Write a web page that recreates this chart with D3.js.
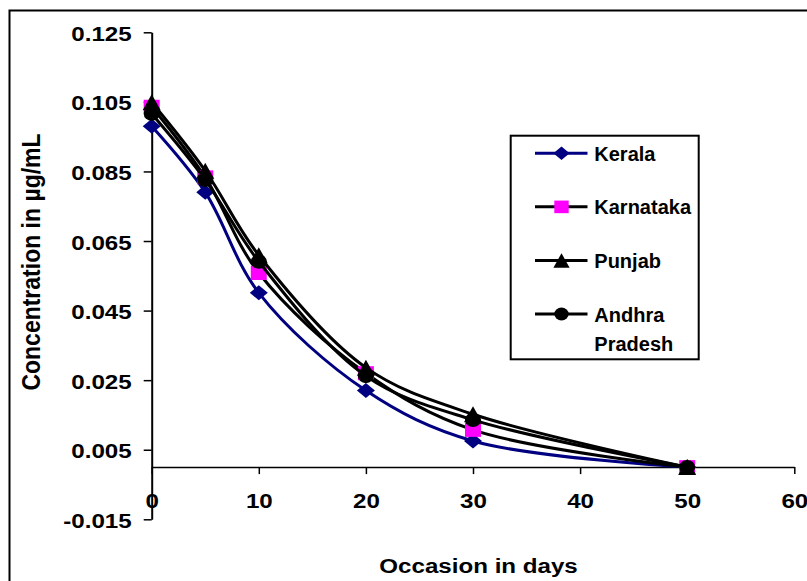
<!DOCTYPE html>
<html>
<head>
<meta charset="utf-8">
<script src="https://cdn.jsdelivr.net/npm/d3@7"></script>
<style>
  body { margin: 0; background: #fff; }
  text { font-family: "Liberation Sans", Arial, sans-serif; font-weight: bold; fill: #000; }
</style>
</head>
<body>
<div id="chart-area"></div>
<script>
const days = [0, 5, 10, 20, 30, 50]
const kerala = [0.098, 0.079, 0.0501, 0.022, 0.0075, 0]
const karnataka = [0.1036, 0.0833, 0.0558, 0.027, 0.0107, 0]
const punjab = [0.1049, 0.0852, 0.0609, 0.0286, 0.0152, 0]
const andhra = [0.1016, 0.0826, 0.0591, 0.0262, 0.0136, 0]

const seriesNames = ["Kerala", "Karnataka", "Punjab", "Andhra Pradesh"]
const xTicks = [0, 10, 20, 30, 40, 50, 60]
const yTicks = [0.125, 0.105, 0.085, 0.065, 0.045, 0.025, 0.005, -0.015]
const yTickLabels = ["0.125", "0.105", "0.085", "0.065", "0.045", "0.025", "0.005", "-0.015"]

const w = 807
const h = 581
const sx = 1.15   // the picture's text is a bit wide

const series = [
  {name: seriesNames[0], values: kerala, line: "#000080", fill: "#000080", shape: "diamond"},
  {name: seriesNames[1], values: karnataka, line: "#000000", fill: "#ff00ff", shape: "square"},
  {name: seriesNames[2], values: punjab, line: "#000000", fill: "#000000", shape: "triangle"},
  {name: seriesNames[3], values: andhra, line: "#000000", fill: "#000000", shape: "circle"}
]

const svg = d3.select("#chart-area")
  .append("svg")
  .attr("width", w)
  .attr("height", h)

// outer frame, cut by the right and bottom edge
svg.append("rect")
  .attr("x", 9.5).attr("y", 10.5)
  .attr("width", 820).attr("height", 600)
  .attr("fill", "#fff")
  .attr("stroke", "#000")
  .attr("stroke-width", 2)

const x = d3.scaleLinear().domain([0, 60]).range([151.7, 794.3])
const y = d3.scaleLinear().domain([-0.015, 0.125]).range([519.3, 32.3])

function wide(sel, tx, ty, k) {
  k = k || sx
  sel.attr("x", 0).attr("y", 0).attr("dy", null)
    .attr("transform", `translate(${tx},${ty}) scale(${k},1)`)
}

// y axis
const yAxis = d3.axisLeft(y)
  .tickValues(yTicks)
  .tickSize(8)
  .tickSizeOuter(0)
  .tickFormat((d, i) => yTickLabels[i])

const gy = svg.append("g")
  .attr("transform", `translate(${x(0)},0)`)
  .call(yAxis)
gy.select(".domain").attr("stroke-width", 2)
gy.selectAll(".tick line").attr("stroke-width", 1.5)
gy.selectAll(".tick text")
  .style("font-size", "21px")
  .attr("text-anchor", "end")
  .call(wide, -20, 8)

// x axis, crossing at y = 0
const xAxis = d3.axisBottom(x)
  .tickValues(xTicks)
  .tickSize(7)
  .tickSizeOuter(0)
  .tickFormat(d3.format("d"))

const gx = svg.append("g")
  .attr("transform", `translate(0,${y(0)})`)
  .call(xAxis)
gx.select(".domain").attr("stroke-width", 1.5)
gx.selectAll(".tick line").attr("stroke-width", 1.5)
gx.selectAll(".tick text")
  .style("font-size", "21px")
  .attr("text-anchor", "middle")
  .call(wide, 0, 41)

// axis titles
svg.append("text")
  .style("font-size", "21px")
  .attr("text-anchor", "start")
  .text("Occasion in days")
  .call(wide, 379.3, 572.7)

svg.append("text")
  .style("font-size", "23px")
  .attr("text-anchor", "middle")
  .attr("transform", `translate(40,262) scale(${sx},1) rotate(-90)`)
  .text("Concentration in µg/mL")

// marker paths centred on 0,0
function marker(shape, k) {
  k = k || 1
  if (shape === "diamond") {
    const a = 9 * k, b = 7.5 * k
    return `M0,${-b}L${a},0L0,${b}L${-a},0Z`
  }
  if (shape === "square") {
    const a = 8 * k, b = 7 * k
    return `M${-a},${-b}H${a}V${b}H${-a}Z`
  }
  if (shape === "triangle") {
    const a = 9 * k, b = 8 * k
    return `M0,${-b}L${a},${b}L${-a},${b}Z`
  }
  const a = 8 * k, b = 7.2 * k
  return `M${-a},0A${a},${b} 0 1,0 ${a},0A${a},${b} 0 1,0 ${-a},0Z`
}

const line = d3.line()
  .x((d, i) => x(days[i]))
  .y(d => y(d))
  .curve(d3.curveCatmullRom)

series.forEach(s => {
  svg.append("path")
    .datum(s.values)
    .attr("d", line)
    .attr("fill", "none")
    .attr("stroke", s.line)
    .attr("stroke-width", 3)

  svg.selectAll(null)
    .data(s.values)
    .enter()
    .append("path")
    .attr("d", marker(s.shape))
    .attr("transform", (d, i) => `translate(${x(days[i])},${y(d)})`)
    .attr("fill", s.fill)
})

// legend
const legend = svg.append("g")
legend.append("rect")
  .attr("x", 510.7).attr("y", 135.7)
  .attr("width", 188).attr("height", 223.6)
  .attr("fill", "#fff")
  .attr("stroke", "#000")
  .attr("stroke-width", 2)

const legendY = d3.scalePoint().domain(seriesNames).range([153.3, 314])

series.forEach(s => {
  const ly = legendY(s.name)
  legend.append("line")
    .attr("x1", 535).attr("x2", 587.5)
    .attr("y1", ly).attr("y2", ly)
    .attr("stroke", s.line)
    .attr("stroke-width", 3)
  legend.append("path")
    .attr("d", marker(s.shape, 0.9))
    .attr("transform", `translate(561.5,${ly})`)
    .attr("fill", s.fill)
  const words = s.name.split(" ")
  words.forEach((wd, j) => {
    legend.append("text")
      .style("font-size", "20px")
      .text(wd)
      .call(wide, 594.3, ly + 7.5 + j * 29.3, 1)
  })
})
</script>
</body>
</html>
